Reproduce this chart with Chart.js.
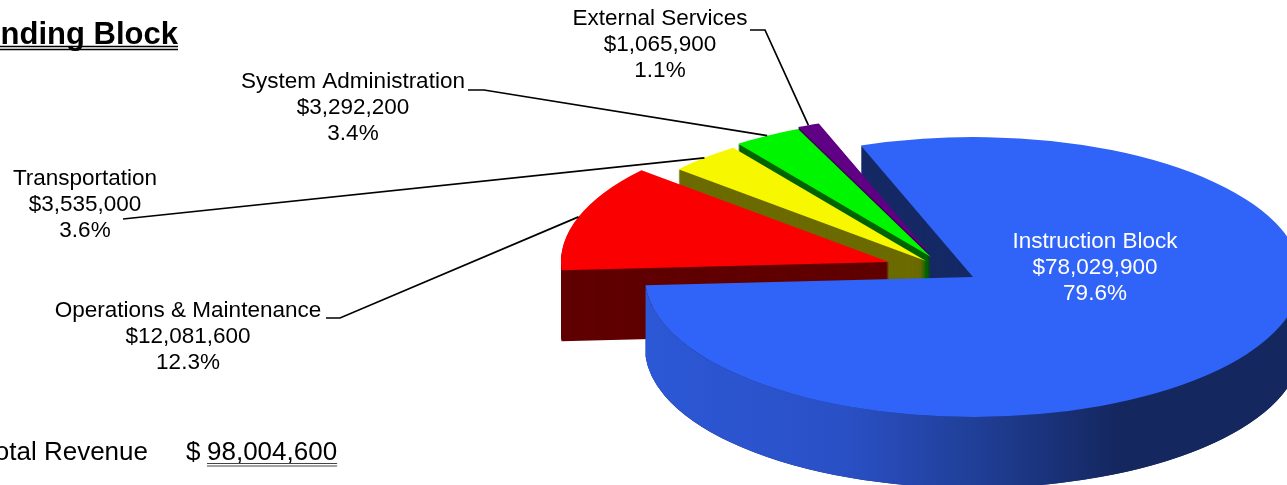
<!DOCTYPE html>
<html>
<head>
<meta charset="utf-8">
<title>Funding Block</title>
<style>
  html, body { margin: 0; padding: 0; background: #fff; overflow: hidden; }
  canvas { display: block; }
</style>
<script src="https://cdn.jsdelivr.net/npm/chart.js@4/dist/chart.umd.min.js"></script>
</head>
<body>
<canvas id="funding" width="1287" height="485"></canvas>
<script>
const categories = ['Instruction Block', 'Operations & Maintenance', 'Transportation', 'System Administration', 'External Services'];
const revenue = [78029900, 12081600, 3535000, 3292200, 1065900];

// slice look
const faceColors = ['#3063f7', '#fb0000', '#f7f700', '#00f500', '#5f0085'];
const wallColors = ['#162a66', '#600000', '#6b6b00', '#006400', '#3c0055'];

// how far each wedge is pulled out of the pie, in screen pixels
const explode = [[0, 0], [-84, -15], [-47, -16], [-42, -20], [-42, -22]];

// label blocks: centre x, first baseline, leader start and elbow
const callouts = [
  { x: 1095, y: 248, color: '#fff' },
  { x: 188, y: 317, color: '#000', from: [326, 318], elbow: [340, 318] },
  { x: 85, y: 185, color: '#000', from: [123, 219], elbow: [123, 219] },
  { x: 353, y: 88, color: '#000', from: [468, 90], elbow: [484, 90] },
  { x: 660, y: 25, color: '#000', from: [750, 30], elbow: [765, 30] }
];

const TILT = 140 / 328;
const DEPTH = 71;
const FONT = '"Liberation Sans", Arial, sans-serif';

const total = revenue.reduce((a, b) => a + b, 0);

function money(v) {
  return '$' + v.toLocaleString('en-US');
}

function wedgePath(ctx, arc) {
  ctx.beginPath();
  ctx.moveTo(arc.x, arc.y);
  ctx.arc(arc.x, arc.y, arc.outerRadius, arc.startAngle, arc.endAngle);
  ctx.closePath();
}

// flatten the pie around its own centre, shifted by dx/dy on screen
function tilted(ctx, arc, dx, dy, paint) {
  ctx.save();
  ctx.translate(arc.x + dx, arc.y + dy);
  ctx.scale(1, TILT);
  ctx.translate(-arc.x, -arc.y);
  paint();
  ctx.restore();
}

function drawWall(ctx, arc, i) {
  const [dx, dy] = explode[i];
  ctx.fillStyle = wallColors[i];
  for (let d = DEPTH; d > 0; d--) {
    tilted(ctx, arc, dx, dy + d, () => {
      wedgePath(ctx, arc);
      ctx.fill();
    });
  }
}

function drawFace(ctx, arc, i) {
  const [dx, dy] = explode[i];
  tilted(ctx, arc, dx, dy, () => arc.draw(ctx));
}

// curved outer side of the big slice, from the right edge round to its end
function drawRim(ctx, arc) {
  const rx = arc.outerRadius;
  const ry = rx * TILT;
  const grad = ctx.createLinearGradient(arc.x - rx, 0, arc.x + rx, 0);
  grad.addColorStop(0, '#2c58d6');
  grad.addColorStop(0.3, '#2a50c6');
  grad.addColorStop(0.5, '#203f98');
  grad.addColorStop(0.72, '#14275f');
  grad.addColorStop(1, '#14275f');
  ctx.beginPath();
  ctx.ellipse(arc.x, arc.y, rx, ry, 0, 0, arc.endAngle);
  ctx.ellipse(arc.x, arc.y + DEPTH, rx, ry, 0, arc.endAngle, 0, true);
  ctx.closePath();
  ctx.fillStyle = grad;
  ctx.fill();
}

const pie3d = {
  id: 'pie3d',
  beforeDatasetsDraw(chart) {
    const ctx = chart.ctx;
    const arcs = chart.getDatasetMeta(0).data;
    drawWall(ctx, arcs[0], 0);
    // the small wedges sit behind the big slice, furthest one first
    for (let i = arcs.length - 1; i > 0; i--) {
      drawWall(ctx, arcs[i], i);
      drawFace(ctx, arcs[i], i);
    }
    drawRim(ctx, arcs[0]);
    drawFace(ctx, arcs[0], 0);
    return false;
  }
};

function doubleUnderline(ctx, x1, x2, y1, y2, width, color) {
  ctx.strokeStyle = color;
  ctx.lineWidth = width;
  [y1, y2].forEach(y => {
    ctx.beginPath();
    ctx.moveTo(x1, y);
    ctx.lineTo(x2, y);
    ctx.stroke();
  });
}

const annotations = {
  id: 'annotations',
  afterDraw(chart) {
    const ctx = chart.ctx;
    const arcs = chart.getDatasetMeta(0).data;
    ctx.save();

    // leaders run to the middle of each wedge's outer edge
    ctx.strokeStyle = '#000';
    ctx.lineWidth = 1.7;
    callouts.forEach((c, i) => {
      if (!c.from) return;
      const arc = arcs[i];
      const mid = (arc.startAngle + arc.endAngle) / 2;
      ctx.beginPath();
      ctx.moveTo(c.from[0], c.from[1]);
      ctx.lineTo(c.elbow[0], c.elbow[1]);
      ctx.lineTo(
        arc.x + explode[i][0] + Math.cos(mid) * arc.outerRadius,
        arc.y + explode[i][1] + Math.sin(mid) * arc.outerRadius * TILT
      );
      ctx.stroke();
    });

    ctx.textAlign = 'center';
    ctx.textBaseline = 'alphabetic';
    ctx.font = '22.5px ' + FONT;
    callouts.forEach((c, i) => {
      ctx.fillStyle = c.color;
      ctx.fillText(categories[i], c.x, c.y);
      ctx.fillText(money(revenue[i]), c.x, c.y + 26);
      ctx.fillText((revenue[i] / total * 100).toFixed(1) + '%', c.x, c.y + 52);
    });

    // heading and total, both run off the left edge
    ctx.fillStyle = '#000';
    ctx.textAlign = 'right';
    ctx.font = 'bold 31px ' + FONT;
    ctx.fillText('Funding Block', 178, 44);
    doubleUnderline(ctx, 0, 178, 46.5, 49.5, 1.6, '#000');

    ctx.font = '26px ' + FONT;
    ctx.fillText('Total Revenue', 148, 460);
    ctx.textAlign = 'left';
    ctx.fillText('$', 186, 460);
    const amount = total.toLocaleString('en-US');
    ctx.fillText(amount, 207, 460);
    doubleUnderline(ctx, 207, 207 + ctx.measureText(amount).width, 463.5, 466, 1, '#444');

    ctx.restore();
  }
};

new Chart(document.getElementById('funding'), {
  type: 'pie',
  data: {
    labels: categories,
    datasets: [{
      data: revenue,
      backgroundColor: faceColors,
      borderWidth: 0
    }]
  },
  options: {
    responsive: false,
    animation: false,
    rotation: -20,
    radius: 328,
    layout: { padding: { left: 659, top: 69 } },
    events: [],
    plugins: {
      legend: { display: false },
      tooltip: { enabled: false }
    }
  },
  plugins: [pie3d, annotations]
});
</script>
</body>
</html>
